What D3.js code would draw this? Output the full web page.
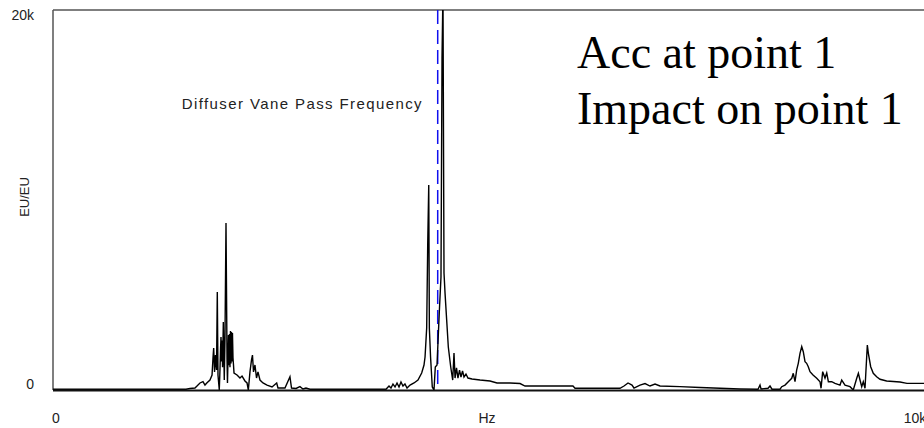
<!DOCTYPE html>
<html>
<head>
<meta charset="utf-8">
<script src="https://cdn.jsdelivr.net/npm/d3@7"></script>
<style>
  body { margin: 0; background: #fff; }
  svg text { font-family: "Liberation Sans", Arial, sans-serif; fill: #222; }
</style>
</head>
<body>
<div id="frf_plot"></div>
<script>
// spectrum (Hz, EU/EU)
var freqHz = [0, 780, 1543, 1589, 1647, 1705, 1740, 1763, 1787, 1821, 1845, 1856, 1864, 1874, 1885, 1897, 1906, 1914, 1929,
  1937, 1944, 1949, 1955, 1961, 1967, 1976, 1982, 1987, 1995, 2007, 2019, 2024, 2036, 2042, 2048, 2053, 2059, 2065, 2071,
  2077, 2082, 2088, 2094, 2100, 2135, 2169, 2193, 2227, 2251,
  2266, 2285, 2303, 2314, 2326, 2343, 2361, 2378, 2401, 2436, 2483, 2541, 2595, 2610, 2691, 2749, 2767, 2819, 2865, 2900,
  2935, 2981, 3863, 3898, 3921, 3944, 3968, 3991, 4014, 4037, 4060, 4083, 4107, 4142, 4188, 4234, 4277, 4304, 4316, 4335,
  4347, 4359, 4366, 4380, 4400, 4420, 4435, 4455, 4481, 4501, 4513, 4524, 4536, 4548, 4567, 4586, 4614, 4637, 4652, 4664,
  4681, 4698, 4716, 4733, 4751, 4768, 4791, 4814, 4861, 4954, 5070, 5151, 5244, 5302, 5418, 5476, 6032, 6056, 6578, 6624,
  6671, 6717, 6740, 6810, 6868, 6926, 6984, 7042, 7274, 7506, 7970, 8179, 8202, 8214, 8295, 8318, 8341, 8434, 8454, 8492,
  8530, 8570, 8588, 8608, 8627, 8646, 8666, 8686, 8704, 8724, 8743, 8762, 8782, 8817, 8860, 8898, 8910, 8929, 8956, 8976,
  8995, 9034, 9072, 9130, 9150, 9188, 9246, 9284, 9324, 9343, 9362, 9382, 9400, 9420, 9447, 9459, 9486, 9516, 9555, 9594,
  9671, 9826, 9907, 10116];
var ampEU = [40, 40, 40, 80, 105, 370, 440, 260, 385, 525, 790, 1680, 2210, 950, 1840, 1050, 5160, 790, 0,
  1050, 2200, 2790, 1500, 2600, 1200, 3580, 1900, 525, 2630, 8790, 1580, 370, 2890, 1300, 2950, 1200, 3100, 1400, 3050,
  1500, 3000, 1700, 1315, 895, 790, 630, 735, 475, 370,
  0, 950, 1580, 1840, 950, 1315, 630, 950, 525, 370, 260, 160, 370, 105, 105, 700, 105, 80, 175, 55,
  105, 40, 40, 210, 105, 315, 160, 370, 160, 420, 210, 315, 105, 260, 370, 525, 895, 1315, 1735, 3260,
  7630, 10790, 3260, 1735, 160, 0, 1210, 1315, 4050, 5950, 17470, 21000, 6160, 5100, 3680, 2260, 1210, 525, 1950, 630,
  1160, 630, 1050, 685, 1000, 685, 840, 630, 580, 525, 475, 370, 370, 370, 340, 210, 210, 90, 90, 210,
  370, 260, 105, 260, 340, 210, 315, 210, 175, 130, 55, 40, 260, 55, 90, 210, 40, 40, 175, 260,
  435, 615, 880, 435, 1050, 1405, 1930, 2280, 2015, 1490, 1405, 1225, 965, 790, 615, 435, 90, 965, 630, 895,
  435, 435, 350, 260, 525, 260, 175, 0, 615, 880, 525, 175, 435, 90, 2370, 1930, 1225, 880, 700, 565,
  475, 420, 350, 350];

var xTicks = [0, 10000];
var xTickLabels = ["0", "10k"];
var yTicks = [0, 20000];
var yTickLabels = ["0", "20k"];
var vanePassHz = 4463;

var width = 924, height = 428;
var margin = {top: 10, right: 0, bottom: 38, left: 53};

var svg = d3.select("#frf_plot")
    .append("svg")
      .attr("width", width)
      .attr("height", height);

var x = d3.scaleLinear()
    .domain([0, 10000])
    .range([margin.left, 915]);

var y = d3.scaleLinear()
    .domain([0, 20000])
    .range([height - margin.bottom, margin.top]);

svg.append("clipPath")
    .attr("id", "plotClip")
  .append("rect")
    .attr("x", margin.left)
    .attr("y", margin.top)
    .attr("width", width - margin.left)
    .attr("height", y(0) - margin.top + 1);

// frame: grey left/top, black bottom
svg.append("line")
    .attr("x1", margin.left).attr("x2", margin.left)
    .attr("y1", y(20000)).attr("y2", y(0))
    .attr("stroke", "#555").attr("stroke-width", 1.5);
svg.append("line")
    .attr("x1", margin.left).attr("x2", width)
    .attr("y1", y(20000)).attr("y2", y(20000))
    .attr("stroke", "#555").attr("stroke-width", 1.5);

// vane pass frequency marker
svg.append("line")
    .attr("x1", x(vanePassHz)).attr("x2", x(vanePassHz))
    .attr("y1", y(20000)).attr("y2", y(0))
    .attr("stroke", "#1010ee")
    .attr("stroke-width", 1.5)
    .attr("stroke-dasharray", "14,6");

var data = freqHz.map(function(f, i) { return {hz: f, amp: ampEU[i]}; });

svg.append("path")
    .datum(data)
    .attr("clip-path", "url(#plotClip)")
    .attr("fill", "none")
    .attr("stroke", "#000")
    .attr("stroke-width", 1.4)
    .attr("d", d3.line()
        .x(function(d) { return x(d.hz); })
        .y(function(d) { return y(d.amp); })
    );

svg.append("line")
    .attr("x1", margin.left).attr("x2", width)
    .attr("y1", y(0) + 0.5).attr("y2", y(0) + 0.5)
    .attr("stroke", "#111").attr("stroke-width", 2);

// tick labels
svg.selectAll(".xlab")
    .data(xTicks)
    .enter()
    .append("text")
      .attr("class", "xlab")
      .attr("x", function(d) { return x(d) + (d === 0 ? 3 : 0); })
      .attr("y", 423)
      .style("text-anchor", "middle")
      .style("font-size", "14px")
      .text(function(d, i) { return xTickLabels[i]; });

svg.selectAll(".ylab")
    .data(yTicks)
    .enter()
    .append("text")
      .attr("class", "ylab")
      .attr("x", 34)
      .attr("y", function(d) { return d === 0 ? y(d) - 1 : y(d) + 10; })
      .style("text-anchor", "end")
      .style("font-size", "14px")
      .text(function(d, i) { return yTickLabels[i]; });

svg.append("text")
    .attr("x", 487)
    .attr("y", 423)
    .style("text-anchor", "middle")
    .style("font-size", "14px")
    .text("Hz");

svg.append("text")
    .attr("transform", "translate(29,197) rotate(-90)")
    .style("text-anchor", "middle")
    .style("font-size", "13px")
    .text("EU/EU");

svg.append("text")
    .attr("x", 423)
    .attr("y", 109)
    .style("text-anchor", "end")
    .style("font-size", "15px")
    .style("letter-spacing", "1.4px")
    .text("Diffuser Vane Pass Frequency");

// annotation
svg.append("text")
    .attr("x", 577)
    .attr("y", 68)
    .style("font-family", "'Liberation Serif', 'Times New Roman', serif")
    .style("font-size", "46px")
    .style("fill", "#000")
    .text("Acc at point 1");
svg.append("text")
    .attr("x", 577)
    .attr("y", 124)
    .style("font-family", "'Liberation Serif', 'Times New Roman', serif")
    .style("font-size", "46px")
    .style("fill", "#000")
    .text("Impact on point 1");
</script>
</body>
</html>
